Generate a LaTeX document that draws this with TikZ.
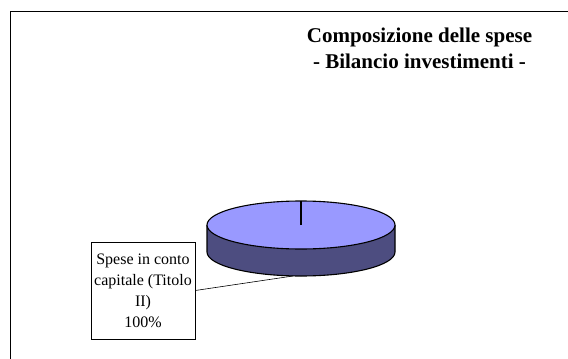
\documentclass[tikz,border=0pt]{standalone}
\usepackage{fontspec}
\setmainfont{Liberation Serif}
\definecolor{pietop}{RGB}{153,153,255}
\definecolor{pieside}{RGB}{77,77,128}
\begin{document}
\begin{tikzpicture}[x=1pt,y=-1pt,
  frame/.style={line width=1pt,black},
  pieline/.style={line width=1.1pt,black},
  lblbox/.style={draw=black,line width=0.6pt,fill=white,align=center,
    font=\fontsize{16}{21}\selectfont,minimum width=104pt,minimum height=97pt,inner sep=0pt},
  titlenode/.style={align=center,font=\fontsize{21}{26}\selectfont\bfseries}]
\useasboundingbox (0,0) rectangle (568,359);
\fill[white] (0,0) rectangle (568,359);
% chart frame (only top and left edges inside the picture)
\draw[frame] (10,370) -- (10,11) -- (580,11);
% title
\node[titlenode] (title) at (419.5,48) {Composizione delle spese\\- Bilancio investimenti -};
% pie
\coordinate (c) at (301,225);
\fill[pieside] (207,225) -- (207,252) arc[start angle=180,end angle=360,x radius=94pt,y radius=24pt]
  -- (395,225) arc[start angle=0,end angle=-180,x radius=94pt,y radius=24pt] -- cycle;
\draw[pieline] (207,225) -- (207,252) arc[start angle=180,end angle=360,x radius=94pt,y radius=24pt]
  -- (395,225);
\draw[pieline,fill=pietop] (c) ellipse[x radius=94pt,y radius=24pt];
\coordinate (ctop) at (301,201);
\draw[pieline] (c) -- (ctop);
% label
\node[lblbox] (lbl) at (143,290.5) {Spese in conto\\capitale (Titolo\\II)\\100\%};
\coordinate (p) at (293,276);
\draw[line width=0.6pt] (lbl.east) -- (p);
\end{tikzpicture}
\end{document}
